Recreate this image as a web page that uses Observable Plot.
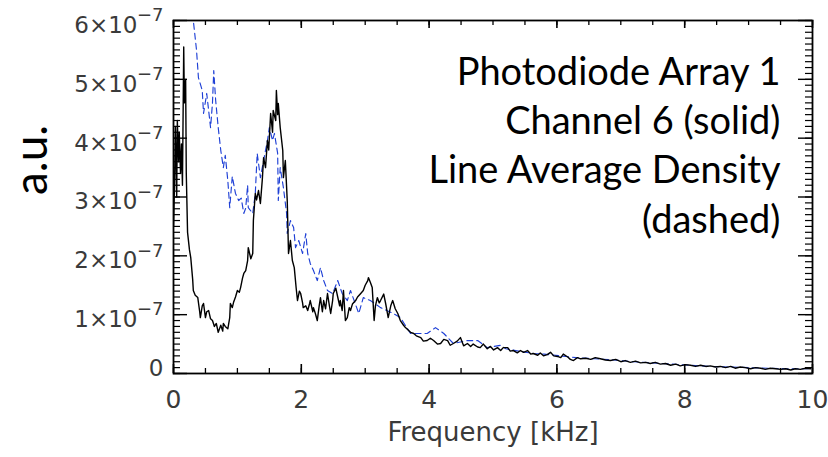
<!DOCTYPE html>
<html><head><meta charset="utf-8">
<script src="https://cdn.jsdelivr.net/npm/d3@7"></script>
<script src="https://cdn.jsdelivr.net/npm/@observablehq/plot@0.6"></script>
<style>body{margin:0;background:#fff}svg{display:block}</style>
</head><body><div id="chart"></div>
<script>
// amplitudes in units of 1e-7 (a.u.)
const UNIT = 1e-7;
const solidFreq = [0.00,0.016,0.03,0.05,0.06,0.08,0.09,0.11,0.125,0.14,0.16,0.17,0.19,0.20,0.22,0.25,0.27,0.30,0.31,0.34,0.38,0.41,0.42,0.45,0.47,0.50,0.52,0.55,0.58,0.61,0.64,0.67,0.70,0.74,0.77,0.78,0.81,0.85,0.88,0.89,0.92,0.94,0.97,1.00,1.03,1.05,1.08,1.10,1.13,1.16,1.17,1.21,1.24,1.25,1.28,1.30,1.33,1.36,1.39,1.41,1.44,1.47,1.49,1.52,1.55,1.56,1.60,1.61,1.63,1.64,1.67,1.71,1.72,1.75,1.78,1.80,1.83,1.86,1.89,1.92,1.94,1.97,1.99,2.02,2.03,2.07,2.10,2.13,2.14,2.18,2.19,2.22,2.25,2.28,2.30,2.33,2.35,2.38,2.41,2.44,2.46,2.49,2.50,2.54,2.57,2.60,2.61,2.64,2.66,2.69,2.72,2.75,2.77,2.80,2.85,2.88,2.93,2.97,3.00,3.04,3.05,3.08,3.11,3.14,3.16,3.19,3.22,3.24,3.29,3.32,3.36,3.40,3.43,3.47,3.51,3.55,3.60,3.63,3.68,3.71,3.76,3.80,3.87,3.91,3.97,4.02,4.07,4.13,4.18,4.23,4.29,4.33,4.38,4.44,4.49,4.54,4.60,4.65,4.69,4.76,4.80,4.85,4.91,4.96,5.01,5.07,5.12,5.16,5.23,5.27,5.32,5.38,5.43,5.48,5.54,5.59,5.63,5.70,5.74,5.79,5.85,5.90,5.95,6.01,6.06,6.10,6.17,6.21,6.26,6.32,6.37,6.45,6.53,6.60,6.68,6.76,6.84,6.92,7.00,7.07,7.15,7.23,7.31,7.39,7.46,7.54,7.62,7.70,7.78,7.86,7.93,8.01,8.09,8.17,8.25,8.33,8.40,8.48,8.56,8.64,8.72,8.79,8.87,8.95,9.03,9.11,9.19,9.26,9.34,9.42,9.50,9.58,9.66,9.73,9.81,9.89,9.97];
const solidAmp = [2.5,3.2,4.2,3.0,4.3,3.6,4.1,3.4,3.9,3.2,5.55,4.6,5.0,3.4,2.4,2.1,1.97,1.6,1.41,1.33,1.29,1.05,0.95,1.15,1.19,0.95,1.05,1.07,0.93,0.90,0.80,0.85,0.70,0.82,0.72,0.85,0.80,0.76,0.95,1.19,1.12,1.21,1.30,1.41,1.38,1.46,1.62,1.70,1.75,1.92,2.14,1.95,2.04,2.6,3.06,2.95,3.11,2.89,3.3,3.67,3.5,3.96,3.8,4.42,4.1,4.47,4.3,4.81,4.4,4.59,4.18,3.79,3.33,3.62,2.94,2.04,2.26,1.92,1.80,1.45,1.24,1.40,1.36,1.20,1.12,1.15,1.07,1.19,1.24,1.05,1.12,1.02,0.90,1.15,1.29,1.05,1.24,1.10,1.36,1.15,1.02,1.24,1.36,1.45,1.30,1.15,1.24,1.07,1.41,0.90,0.95,1.12,1.07,1.18,1.24,1.30,1.36,1.41,1.50,1.58,1.63,1.55,1.46,0.90,1.15,1.29,1.20,1.24,1.35,1.19,0.95,1.15,1.24,1.10,1.02,0.90,0.82,0.78,0.73,0.70,0.68,0.64,0.61,0.55,0.56,0.60,0.56,0.50,0.51,0.58,0.56,0.48,0.51,0.55,0.61,0.47,0.51,0.46,0.50,0.45,0.44,0.50,0.42,0.46,0.40,0.44,0.39,0.44,0.44,0.38,0.39,0.35,0.39,0.36,0.39,0.33,0.34,0.31,0.35,0.30,0.32,0.36,0.30,0.29,0.27,0.33,0.28,0.24,0.22,0.27,0.25,0.26,0.24,0.27,0.25,0.23,0.22,0.24,0.20,0.22,0.19,0.21,0.18,0.19,0.17,0.19,0.16,0.17,0.14,0.16,0.13,0.15,0.14,0.12,0.14,0.12,0.13,0.11,0.12,0.10,0.12,0.09,0.11,0.10,0.08,0.10,0.09,0.07,0.09,0.08,0.07,0.08,0.06,0.08,0.07,0.09,0.08];
const dashFreq = [0.27,0.31,0.36,0.39,0.45,0.47,0.52,0.55,0.58,0.61,0.63,0.66,0.70,0.74,0.78,0.81,0.85,0.88,0.92,0.97,1.02,1.06,1.10,1.13,1.16,1.17,1.24,1.28,1.31,1.36,1.41,1.47,1.50,1.55,1.58,1.63,1.64,1.67,1.72,1.77,1.78,1.83,1.88,1.91,1.96,2.02,2.07,2.10,2.14,2.19,2.25,2.30,2.35,2.41,2.49,2.57,2.64,2.72,2.77,2.90,2.97,3.08,3.24,3.44,3.55,3.71,3.82,3.97,4.10,4.23,4.38,4.60,4.76,4.91,5.12,5.20,5.40,5.63,5.80,6.05,6.30,6.60,6.90,7.20,7.50,7.80,8.10,8.40,8.70,9.00,9.30,9.60,10.0];
const dashAmp = [6.8,6.0,5.5,5.03,4.81,4.42,4.76,4.47,4.18,4.6,5.15,4.64,4.18,3.79,3.5,3.71,3.28,2.82,3.35,3.06,2.94,2.98,2.72,2.81,3.2,2.82,2.72,3.06,3.74,3.33,3.62,3.96,4.18,3.96,4.08,3.74,2.94,3.5,3.16,2.72,2.38,2.6,2.48,2.14,2.26,2.04,2.38,2.04,1.87,1.75,1.58,1.80,1.58,1.41,1.36,1.58,1.36,1.24,1.41,1.02,1.29,1.24,1.12,1.02,0.95,0.68,0.68,0.68,0.78,0.68,0.51,0.56,0.56,0.44,0.48,0.42,0.38,0.34,0.33,0.30,0.27,0.25,0.23,0.20,0.18,0.16,0.14,0.12,0.11,0.10,0.09,0.08,0.08];
const yTicks = [0,1,2,3,4,5,6];
const yTickBase = ["0","1×10","2×10","3×10","4×10","5×10","6×10"];
const yTickExp = ["","−7","−7","−7","−7","−7","−7"];
const xTicks = [0,2,4,6,8,10];
const xMinor = d3.range(0,10.01,0.5);
const yMinor = d3.range(0,60.5,1).map(d=>d/10);
const xTitle = "Frequency [kHz]";
const yTitle = "a.u.";
const legendLines = ["Photodiode Array 1","Channel 6 (solid)","Line Average Density","(dashed)"];

const solid = solidFreq.map((f,i)=>({f, v: solidAmp[i]*UNIT}));
const dashed = dashFreq.map((f,i)=>({f, v: dashAmp[i]*UNIT}));

const W = 828, H = 457, mL = 173, mR = 16, mT = 20, mB = 84;
const pw = W-mL-mR, ph = H-mT-mB;
const tickFont = "DejaVu Sans";
const tickFill = "#3a3a3a";

const chart = Plot.plot({
  width: W, height: H,
  marginLeft: mL, marginRight: mR, marginTop: mT, marginBottom: mB,
  x: {domain: [0,10], axis: null},
  y: {domain: [0,6e-7], axis: null},
  style: {background: "white"},
  marks: [
    Plot.line(dashed, {x:"f", y:"v", stroke:"#1f40d6", strokeWidth:1.15, strokeDasharray:"6,4", clip:true}),
    Plot.line(solid, {x:"f", y:"v", stroke:"black", strokeWidth:1.4, clip:true}),
    // inward ticks
    Plot.ruleX(xMinor, {x: d=>d, insetTop: ph-5, stroke:"black", strokeWidth:1.3}),
    Plot.ruleX(xTicks, {x: d=>d, insetTop: ph-9, stroke:"black", strokeWidth:1.6}),
    Plot.ruleX(xMinor, {x: d=>d, insetBottom: ph-5, stroke:"black", strokeWidth:1.3}),
    Plot.ruleX(xTicks, {x: d=>d, insetBottom: ph-8, stroke:"black", strokeWidth:1.6}),
    Plot.ruleY(yMinor, {y: d=>d*UNIT, insetRight: pw-7, stroke:"black", strokeWidth:1.2}),
    Plot.ruleY(yTicks, {y: d=>d*UNIT, insetRight: pw-14, stroke:"black", strokeWidth:1.4}),
    Plot.ruleY(yMinor, {y: d=>d*UNIT, insetLeft: pw-7, stroke:"black", strokeWidth:1.2}),
    Plot.ruleY(yTicks, {y: d=>d*UNIT, insetLeft: pw-14, stroke:"black", strokeWidth:1.4}),
    Plot.frame({stroke:"black", strokeWidth:1.8}),
    // y tick labels
    Plot.text(yTicks.filter(d=>d===0), {x: 0, y: d=>d*UNIT, text: d=>yTickBase[d], textAnchor:"end", dx: -10, dy: -5, fontSize: 23, fontFamily: tickFont, fill: tickFill}),
    Plot.text(yTicks.filter(d=>d>0), {x: 0, y: d=>d*UNIT, text: d=>yTickBase[d], textAnchor:"end", dx: -36, dy: 5, fontSize: 23, fontFamily: tickFont, fill: tickFill}),
    Plot.text(yTicks.filter(d=>d>0), {x: 0, y: d=>d*UNIT, text: d=>yTickExp[d], textAnchor:"end", dx: -10, dy: -5, fontSize: 18, fontFamily: tickFont, fill: tickFill}),
    // x tick labels
    Plot.text(xTicks, {x: d=>d, frameAnchor:"bottom", dy: 34, fontSize: 25, fontFamily: tickFont, fill: tickFill}),
    Plot.text([xTitle], {frameAnchor:"bottom", dy: 67, fontSize: 26, fontFamily: tickFont, fill: tickFill}),
    Plot.text([yTitle], {frameAnchor:"left", rotate:-90, dx:-141, dy:-2, fontSize:46, fontFamily:"Lato", fill:"black"}),
    Plot.text([legendLines.join("\n")], {frameAnchor:"top-right", textAnchor:"end", lineAnchor:"top", lineHeight:1.3, dx:-32, dy:29, fontSize:38, fontFamily:"Lato", fill:"black"})
  ]
});
document.getElementById("chart").append(chart);
</script>
</body></html>
